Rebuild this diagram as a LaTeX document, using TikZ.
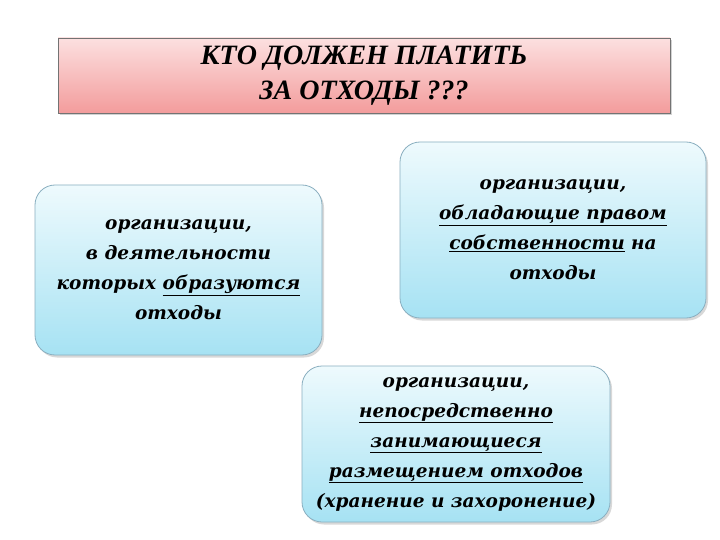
\documentclass[tikz,border=0pt]{standalone}
\usepackage{fontspec}
\setmainfont{Liberation Serif}
\newfontfamily\boxfont{DejaVu Serif}
\usetikzlibrary{shadows}
\definecolor{pinktop}{HTML}{FCE0E0}
\definecolor{pinkbot}{HTML}{F39C9C}
\definecolor{bluetop}{HTML}{EEFAFD}
\definecolor{bluebot}{HTML}{A6E2F3}
\definecolor{blueedge}{HTML}{8AAFC0}
\tikzset{
  titlebox/.style={draw=black!55, line width=0.6pt, top color=pinktop, bottom color=pinkbot,
    minimum width=612pt, minimum height=75pt, inner sep=0pt, align=center,
    font=\fontsize{28}{35}\selectfont\bfseries\itshape,
    drop shadow={shadow xshift=1.5pt, shadow yshift=-2pt, opacity=0.35}},
  infobox/.style={draw=blueedge, line width=0.8pt, rounded corners=20pt,
    top color=bluetop, bottom color=bluebot, inner sep=0pt, align=center,
    font=\boxfont\fontsize{18.5}{30}\selectfont\bfseries\itshape,
    drop shadow={shadow xshift=2pt, shadow yshift=-2.5pt, opacity=0.3}}
}
\begin{document}
\begin{tikzpicture}[x=1pt,y=-1pt]
\useasboundingbox (0,0) rectangle (720,540);
\fill[white] (0,0) rectangle (720,540);
\node[titlebox] (title) at (364,75.5) {КТО ДОЛЖЕН ПЛАТИТЬ\\ЗА ОТХОДЫ ???};
\node[infobox, minimum width=287pt, minimum height=170pt] (left) at (178.5,270)
  {организации,\\в деятельности\\которых \underline{образуются}\\отходы};
\node[infobox, minimum width=306pt, minimum height=176pt] (right) at (553,230)
  {организации,\\\underline{обладающие правом}\\\underline{собственности} на\\отходы};
\node[infobox, minimum width=308pt, minimum height=156pt] (bottom) at (456,444)
  {организации,\\\underline{непосредственно}\\\underline{занимающиеся}\\\underline{размещением отходов}\\(хранение и захоронение)};
\end{tikzpicture}
\end{document}
